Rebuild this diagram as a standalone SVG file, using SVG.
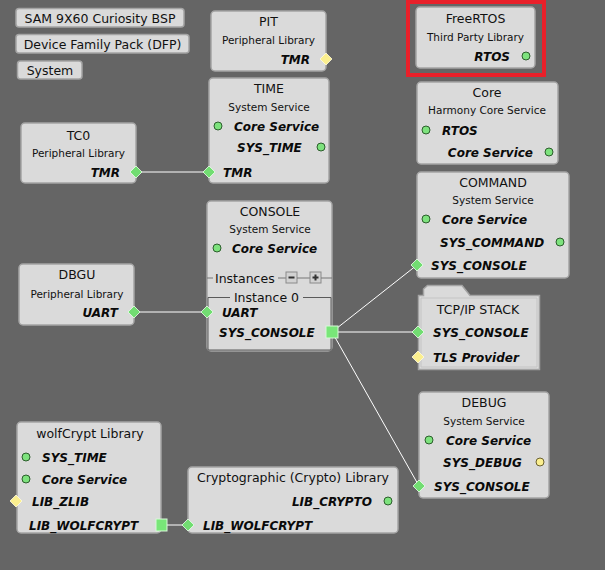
<svg xmlns="http://www.w3.org/2000/svg" width="605" height="570" viewBox="0 0 605 570">
<defs>
<style>
.bg{fill:#656565}
.node{fill:#dadada;stroke:#a4a4a4;stroke-width:1.5}
.btn{fill:#dadada;stroke:#a4a4a4;stroke-width:1.5}
.t{font-family:"DejaVu Sans",sans-serif;font-size:12.5px;fill:#111;text-anchor:middle}
.tl{font-family:"DejaVu Sans",sans-serif;font-size:12.5px;fill:#111}
.s{font-family:"DejaVu Sans",sans-serif;font-size:10.5px;fill:#111;text-anchor:middle}
.p{font-family:"DejaVu Sans",sans-serif;font-size:12px;font-weight:bold;font-style:italic;fill:#0a0a0a}
.pr{font-family:"DejaVu Sans",sans-serif;font-size:12px;font-weight:bold;font-style:italic;fill:#0a0a0a;text-anchor:end}
.gc{fill:#7de27d;stroke:#2c5e2c;stroke-width:1}
.yc{fill:#fbef8f;stroke:#6b6130;stroke-width:1}
.gd{fill:#72dd72;stroke:#e8ffe8;stroke-width:0.8}
.yd{fill:#fbef8f;stroke:#fffbe0;stroke-width:0.8}
.sq{fill:#78e678;stroke:#d8f8d8;stroke-width:1}
.conn{stroke:#ffffff;stroke-width:1;fill:none}
</style>
</defs>
<rect class="bg" x="0" y="0" width="605" height="570"/>

<g id="connectors">
<line class="conn" x1="136" y1="172" x2="209" y2="172"/>
<line class="conn" x1="134" y1="312" x2="207" y2="312"/>
<line class="conn" x1="332" y1="332" x2="417" y2="265"/>
<line class="conn" x1="332" y1="332" x2="418" y2="332"/>
<line class="conn" x1="332" y1="332" x2="419" y2="486"/>
<line class="conn" x1="161" y1="525" x2="188" y2="525"/>
</g>

<g id="bsp">
<rect class="btn" x="16" y="8.5" width="168" height="18.5" rx="3"/>
<text class="t" x="100" y="22.5">SAM 9X60 Curiosity BSP</text>
</g>
<g id="dfp">
<rect class="btn" x="16" y="34.5" width="173" height="18.5" rx="3"/>
<text class="t" x="102.5" y="48.5">Device Family Pack (DFP)</text>
</g>
<g id="system">
<rect class="btn" x="17.5" y="61" width="64.5" height="18" rx="3"/>
<text class="t" x="50" y="75">System</text>
</g>

<g id="pit">
<rect class="node" x="211" y="11" width="115" height="60" rx="4"/>
<text class="t" x="268.5" y="26">PIT</text>
<text class="s" x="268.5" y="44">Peripheral Library</text>
<text class="pr" x="310" y="63.5">TMR</text>
<path class="yd" d="M326 53 L332 59 L326 65 L320 59 Z"/>
</g>

<g id="time">
<rect class="node" x="209" y="78" width="120" height="105" rx="4"/>
<text class="t" x="269" y="92.5">TIME</text>
<text class="s" x="269" y="110.5">System Service</text>
<circle class="gc" cx="218" cy="126" r="4"/>
<text class="p" x="234" y="130.5">Core Service</text>
<text class="p" x="237" y="151.5">SYS_TIME</text>
<circle class="gc" cx="321" cy="147" r="4"/>
<text class="p" x="223" y="176.5">TMR</text>
<path class="gd" d="M209 166 L215 172 L209 178 L203 172 Z"/>
</g>

<g id="tc0">
<rect class="node" x="21" y="123" width="115" height="60" rx="4"/>
<text class="t" x="78.5" y="139.5">TC0</text>
<text class="s" x="78.5" y="157">Peripheral Library</text>
<text class="pr" x="120" y="176.5">TMR</text>
<path class="gd" d="M136 166 L142 172 L136 178 L130 172 Z"/>
</g>

<g id="freertos">
<rect x="408" y="2" width="136" height="73" fill="none" stroke="#e8202a" stroke-width="4"/>
<rect class="node" x="416" y="7" width="119" height="61" rx="4"/>
<text class="t" x="475.5" y="22.5">FreeRTOS</text>
<text class="s" x="475.5" y="40.5">Third Party Library</text>
<text class="pr" x="510" y="60.5">RTOS</text>
<circle class="gc" cx="526" cy="56" r="4"/>
</g>

<g id="core">
<rect class="node" x="417" y="82" width="141" height="82" rx="4"/>
<text class="t" x="487" y="96.5">Core</text>
<text class="s" x="487" y="114">Harmony Core Service</text>
<circle class="gc" cx="426" cy="130" r="4"/>
<text class="p" x="442" y="134.5">RTOS</text>
<text class="pr" x="533" y="156.5">Core Service</text>
<circle class="gc" cx="549" cy="152" r="4"/>
</g>

<g id="console">
<rect class="node" x="207" y="201" width="125" height="150" rx="4"/>
<text class="t" x="270" y="215.5">CONSOLE</text>
<text class="s" x="270" y="233">System Service</text>
<circle class="gc" cx="217" cy="248" r="4"/>
<text class="p" x="232" y="252.5">Core Service</text>
<line x1="207" y1="278" x2="213" y2="278" stroke="#777" stroke-width="1"/>
<text class="tl" x="215" y="282.5">Instances</text>
<line x1="278" y1="278" x2="286" y2="278" stroke="#777" stroke-width="1"/>
<rect x="286" y="272" width="11" height="11" fill="#d2d2d2" stroke="#8a8a8a" stroke-width="1"/>
<line x1="288.5" y1="277.5" x2="294.5" y2="277.5" stroke="#333" stroke-width="2"/>
<line x1="297" y1="278" x2="310" y2="278" stroke="#777" stroke-width="1"/>
<rect x="310" y="272" width="11" height="11" fill="#d2d2d2" stroke="#8a8a8a" stroke-width="1"/>
<line x1="312.5" y1="277.5" x2="318.5" y2="277.5" stroke="#333" stroke-width="2"/>
<line x1="315.5" y1="274.5" x2="315.5" y2="280.5" stroke="#333" stroke-width="2"/>
<line x1="321" y1="278" x2="332" y2="278" stroke="#777" stroke-width="1"/>
<path d="M230 297.5 H208 V350 H331 V297.5 H303" fill="none" stroke="#5a5a5a" stroke-width="1"/>
<text class="t" x="266.5" y="302">Instance 0</text>
<path class="gd" d="M207 306 L213 312 L207 318 L201 312 Z"/>
<text class="p" x="222" y="316.5">UART</text>
<text class="p" x="219" y="337">SYS_CONSOLE</text>
<rect class="sq" x="326" y="326" width="12" height="12"/>
</g>

<g id="dbgu">
<rect class="node" x="19" y="264" width="115" height="61" rx="4"/>
<text class="t" x="77" y="279">DBGU</text>
<text class="s" x="77" y="297.5">Peripheral Library</text>
<text class="pr" x="118" y="316.5">UART</text>
<path class="gd" d="M134 306 L140 312 L134 318 L128 312 Z"/>
</g>

<g id="command">
<rect class="node" x="417" y="172" width="152" height="106" rx="4"/>
<text class="t" x="493" y="186.5">COMMAND</text>
<text class="s" x="493" y="204">System Service</text>
<circle class="gc" cx="426" cy="219" r="4"/>
<text class="p" x="442" y="223.5">Core Service</text>
<text class="p" x="440" y="246.5">SYS_COMMAND</text>
<circle class="gc" cx="560" cy="242" r="4"/>
<text class="p" x="431" y="269.5">SYS_CONSOLE</text>
<path class="gd" d="M417 259 L423 265 L417 271 L411 265 Z"/>
</g>

<g id="tcpip">
<path d="M418.5 295.5 H423.5 V289 L427.5 285.5 H462 L470 295.5 H539.5 V369.5 H418.5 Z" fill="#dadada" stroke="#a4a4a4" stroke-width="1.5"/>
<path d="M421 298 H468 M421 298 V367 H537 V298 H468" fill="none" stroke="#c4c4c4" stroke-width="1"/>
<text class="t" x="478" y="313.5">TCP/IP STACK</text>
<path class="gd" d="M418 326 L424 332 L418 338 L412 332 Z"/>
<text class="p" x="433" y="336.5">SYS_CONSOLE</text>
<path class="yd" d="M418 351 L424 357 L418 363 L412 357 Z"/>
<text class="p" x="433" y="361.5">TLS Provider</text>
</g>

<g id="debug">
<rect class="node" x="419" y="392" width="130" height="106" rx="4"/>
<text class="t" x="484" y="406.5">DEBUG</text>
<text class="s" x="484" y="424.5">System Service</text>
<circle class="gc" cx="429" cy="440" r="4"/>
<text class="p" x="446" y="444.5">Core Service</text>
<text class="p" x="443" y="466.5">SYS_DEBUG</text>
<circle class="yc" cx="540" cy="462" r="4"/>
<text class="p" x="434" y="490.5">SYS_CONSOLE</text>
<path class="gd" d="M419 480 L425 486 L419 492 L413 486 Z"/>
</g>

<g id="wolfcrypt">
<rect class="node" x="17" y="422" width="144" height="111" rx="4"/>
<text class="t" x="90" y="437.5">wolfCrypt Library</text>
<circle class="gc" cx="26" cy="457" r="4"/>
<text class="p" x="42" y="461.5">SYS_TIME</text>
<circle class="gc" cx="26" cy="479" r="4"/>
<text class="p" x="42" y="483.5">Core Service</text>
<path class="yd" d="M16 495 L22 501 L16 507 L10 501 Z"/>
<text class="p" x="32" y="505.5">LIB_ZLIB</text>
<text class="p" x="29" y="529.5">LIB_WOLFCRYPT</text>
<rect class="sq" x="156" y="519" width="11" height="12"/>
</g>

<g id="crypto">
<rect class="node" x="188" y="467" width="210" height="66" rx="4"/>
<text class="t" x="293" y="481.5">Cryptographic (Crypto) Library</text>
<text class="pr" x="372" y="505.5">LIB_CRYPTO</text>
<circle class="gc" cx="388" cy="501" r="4"/>
<path class="gd" d="M188 519 L194 525 L188 531 L182 525 Z"/>
<text class="p" x="203" y="529.5">LIB_WOLFCRYPT</text>
</g>
</svg>
